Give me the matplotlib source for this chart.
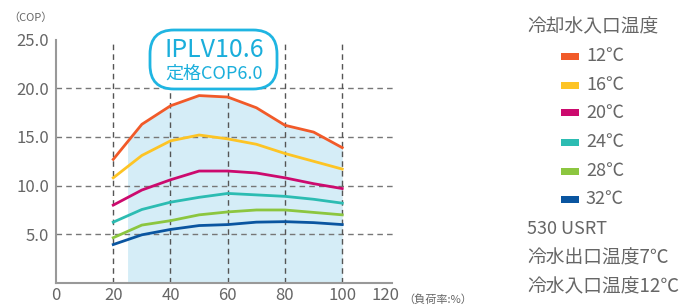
import matplotlib
matplotlib.use("Agg")
import matplotlib.pyplot as plt
from matplotlib.patches import FancyBboxPatch, Rectangle

plt.rcParams['font.family'] = ['Noto Sans CJK JP', 'DejaVu Sans']

load = [20, 30, 40, 50, 60, 70, 80, 90, 100]
cop_12 = [12.7, 16.3, 18.2, 19.25, 19.1, 18.0, 16.2, 15.5, 13.9]
cop_16 = [10.8, 13.1, 14.6, 15.2, 14.8, 14.25, 13.3, 12.5, 11.7]
cop_20 = [8.0, 9.55, 10.6, 11.5, 11.5, 11.3, 10.8, 10.2, 9.7]
cop_24 = [6.25, 7.55, 8.3, 8.8, 9.2, 9.05, 8.9, 8.6, 8.2]
cop_28 = [4.65, 5.95, 6.4, 7.0, 7.3, 7.5, 7.5, 7.25, 7.0]
cop_32 = [3.95, 4.95, 5.5, 5.9, 6.0, 6.25, 6.3, 6.2, 6.0]
series_labels = ['12℃', '16℃', '20℃', '24℃', '28℃', '32℃']
colors = ['#f15a29', '#fdc425', '#cc0a6e', '#2cbcb2', '#8cc63f', '#0a55a0']
x_ticks = [0, 20, 40, 60, 80, 100, 120]
y_ticks = [5, 10, 15, 20, 25]
y_tick_labels = ['5.0', '10.0', '15.0', '20.0', '25.0']
shade_x = [25, 30, 40, 50, 60, 70, 80, 90, 100]
shade_top = [14.5, 16.3, 18.2, 19.25, 19.1, 18.0, 16.2, 15.5, 13.9]

W, H = 684, 307
fig = plt.figure(figsize=(W / 100, H / 100), dpi=100)
x0, x1 = 56, 399.5
y0, y1 = 283, 39.6
ax = fig.add_axes([x0 / W, 1 - y0 / H, (x1 - x0) / W, (y0 - y1) / H])
ax.set_xlim(0, 120)
ax.set_ylim(0, 25)
ax.patch.set_alpha(0)

grey = '#666666'
# shaded region
ax.fill_between(shade_x, 0, shade_top, color='#d5edf7', lw=0, zorder=1)

# grid
for yv in [5, 10, 15, 20]:
    ax.plot([0, 118.5], [yv, yv], ls=(0, (4, 3)), color='#777777', lw=1.0, zorder=2)
for xv in [20, 40, 60, 80, 100]:
    ax.plot([xv, xv], [0, 25], ls=(0, (4, 3)), color='#555555', lw=1.0, zorder=2)

series = [cop_12, cop_16, cop_20, cop_24, cop_28, cop_32]
for s, c in zip(series, colors):
    ax.plot(load, s, color=c, lw=2.0, zorder=3, solid_joinstyle='round')

for side in ['top', 'right']:
    ax.spines[side].set_visible(False)
ax.spines['left'].set_color('#999999')
ax.spines['bottom'].set_color('#999999')
ax.spines['left'].set_linewidth(1.5)
ax.spines['bottom'].set_linewidth(1.5)
ax.spines['bottom'].set_bounds(0, 117.5)
ax.spines['left'].set_zorder(4)

ax.set_xticks(x_ticks)
ax.set_xticklabels([str(v) for v in x_ticks])
ax.set_yticks(y_ticks)
ax.set_yticklabels(y_tick_labels)
ax.tick_params(length=0, labelsize=12, colors=grey, pad=3)
ax.tick_params(axis='y', pad=5)
xlabels = ax.get_xticklabels()
xlabels[-1].set_horizontalalignment('right')

fig.text(8 / W, 1 - 18 / H, '（COP）', fontsize=8, color=grey, va='center', ha='left')
fig.text(403 / W, 1 - 300 / H, '（負荷率:%）', fontsize=8, color=grey, va='center', ha='left')

# IPLV box
bx0, by0, bx1, by1 = 150, 30, 277, 89
box = FancyBboxPatch((bx0 / W, 1 - by1 / H), (bx1 - bx0) / W, (by1 - by0) / H,
                     boxstyle='round,pad=0,rounding_size=0.035', transform=fig.transFigure,
                     facecolor='white', edgecolor='#1fb5e2', lw=2.0, zorder=5,
                     mutation_aspect=W / H)
fig.patches.append(box)
fig.text(214 / W, 1 - 50 / H, 'IPLV10.6', fontsize=18, color='#1aaedb', ha='center', va='center', zorder=6)
fig.text(214 / W, 1 - 74 / H, '定格COP6.0', fontsize=13, color='#1aaedb', ha='center', va='center', zorder=6)

# legend
fig.text(527 / W, 1 - 27 / H, '冷却水入口温度', fontsize=13.5, color=grey, ha='left', va='center')
rows = [56, 85, 113, 142, 171, 199]
for lab, c, ry in zip(series_labels, colors, rows):
    fig.patches.append(Rectangle((561 / W, 1 - (ry + 3.5) / H), 18 / W, 7 / H,
                                 transform=fig.transFigure, facecolor=c, edgecolor='none'))
    fig.text(586 / W, 1 - ry / H, lab, fontsize=13, color=grey, ha='left', va='center')
fig.text(527 / W, 1 - 229 / H, '530 USRT', fontsize=13, color=grey, ha='left', va='center')
fig.text(527 / W, 1 - 258 / H, '冷水出口温度7℃', fontsize=13.5, color=grey, ha='left', va='center')
fig.text(527 / W, 1 - 287 / H, '冷水入口温度12℃', fontsize=13.5, color=grey, ha='left', va='center')

fig.savefig('out.png', dpi=100)
